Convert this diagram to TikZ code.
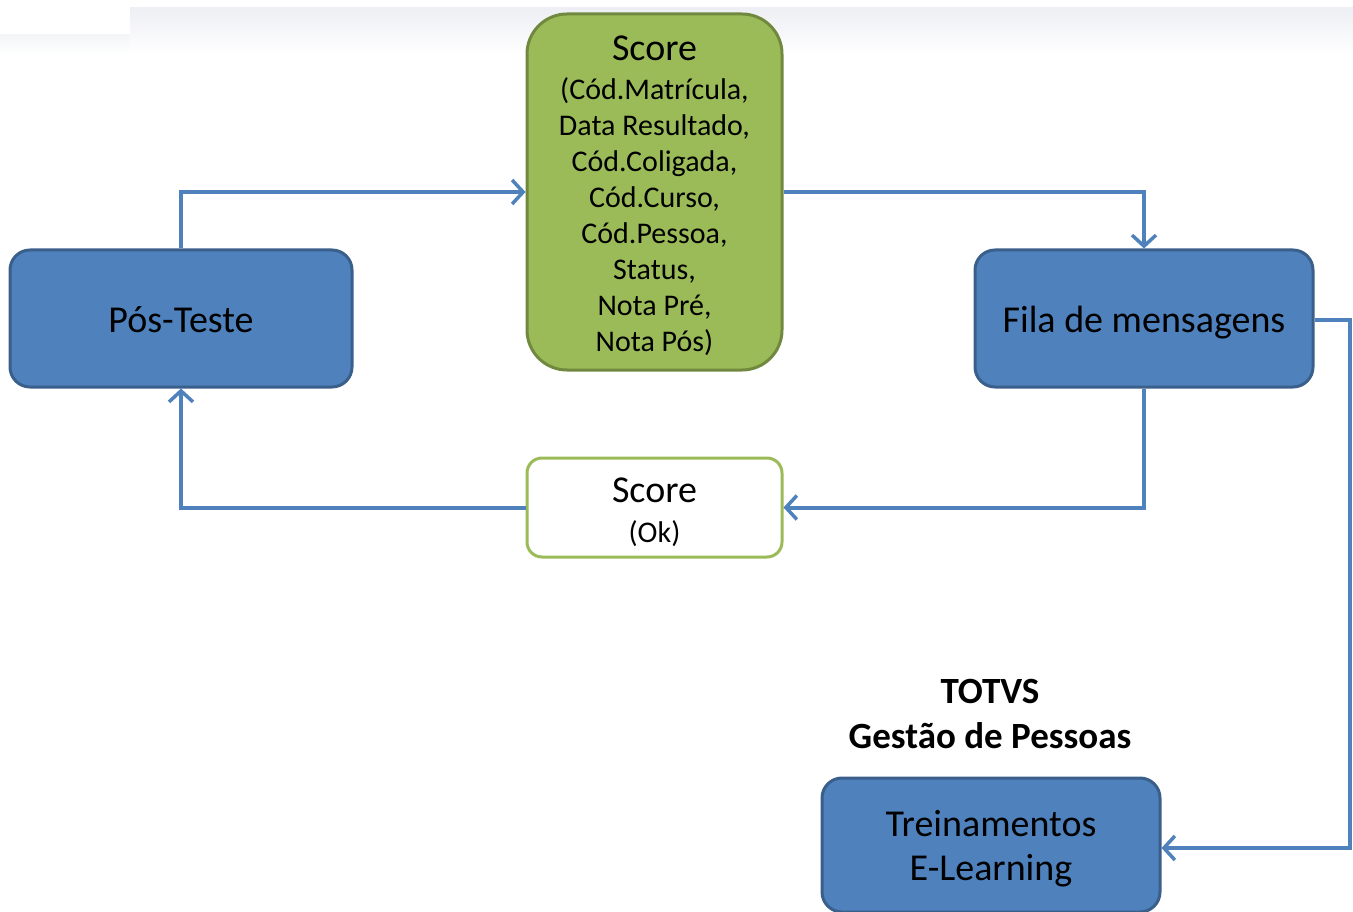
\documentclass[tikz,border=0pt]{standalone}
\usepackage{fontspec}
\setmainfont{Carlito}
\usetikzlibrary{arrows.meta,positioning}
\definecolor{bluefill}{HTML}{4F81BD}
\definecolor{blueline}{HTML}{3A5F8B}
\definecolor{greenfill}{HTML}{9BBB59}
\definecolor{greenline}{HTML}{71893F}
\definecolor{conncol}{HTML}{4F81BD}
\definecolor{topgray}{HTML}{EEEFF4}
\tikzset{
  bluebox/.style={draw=blueline, fill=bluefill, line width=3pt, rounded corners=20pt, inner sep=0pt},
  bluetext/.style={inner sep=0pt, align=center, font=\fontsize{38}{44}\selectfont},
  greenbox/.style={draw=greenline, fill=greenfill, line width=3pt, rounded corners=40pt,
    inner sep=0pt, minimum width=255pt, minimum height=356pt},
  greentext/.style={inner sep=0pt, align=center, font=\fontsize{30}{36}\selectfont},
  okbox/.style={draw=greenfill, fill=white, line width=3pt, rounded corners=15pt,
    inner sep=0pt, minimum width=255pt, minimum height=99pt},
  oktext/.style={inner sep=0pt, align=center, font=\fontsize{30}{40}\selectfont},
  conn/.style={draw=conncol, line width=4pt,
    -{Straight Barb[length=11pt,width=24pt,line width=3.5pt]}},
  toplabel/.style={font=\bfseries\fontsize{37}{45}\selectfont, align=center, inner sep=0pt}
}
\begin{document}
\begin{tikzpicture}[x=1pt,y=-1pt]
\useasboundingbox (0,0) rectangle (1353,912);
\fill[top color=topgray, bottom color=white] (130,8) rectangle (1353,55);
\fill[top color=topgray!60, bottom color=white] (0,35) rectangle (130,55);

\node[bluebox, minimum width=342pt, minimum height=137pt] (pos) at (181,318.5) {};
\node[bluetext] (postext) at ([yshift=-1pt]pos.center) {Pós-Teste};

\node[greenbox] (score) at (654.5,192) {};
\node[greentext] (scoretext) at ([yshift=-4pt]score.center) {{\fontsize{38}{40}\selectfont Score}\\[3pt]
  (Cód.Matrícula,\\ Data Resultado,\\ Cód.Coligada,\\ Cód.Curso,\\ Cód.Pessoa,\\ Status,\\ Nota Pré,\\ Nota Pós)};

\node[bluebox, minimum width=338pt, minimum height=137pt] (fila) at (1144,318.5) {};
\node[bluetext] (filatext) at ([yshift=-4pt]fila.center) {Fila de mensagens};

\node[okbox] (ok) at (654.5,507.5) {};
\node[oktext] (oktxt) at ([yshift=-5pt]ok.center) {{\fontsize{38}{40}\selectfont Score}\\(Ok)};

\node[toplabel] (totvs) at (990,714) {TOTVS\\Gestão de Pessoas};

\node[bluebox, minimum width=338pt, minimum height=134pt] (trein) at (991,845) {};
\node[bluetext] (treintext) at ([yshift=-4pt]trein.center) {Treinamentos\\E-Learning};

\draw[conn] (pos.north) |- (score.west);
\draw[conn] (score.east) -| (fila.north);
\draw[conn] (fila.south) |- (ok.east);
\draw[conn] (ok.west) -| (pos.south);
\coordinate (c1) at (1350,320);
\coordinate (c2) at (1350,848);
\draw[conn] (fila.east |- c1) -- (c1) -- (c2) -- (trein.east |- c2);
\end{tikzpicture}
\end{document}
